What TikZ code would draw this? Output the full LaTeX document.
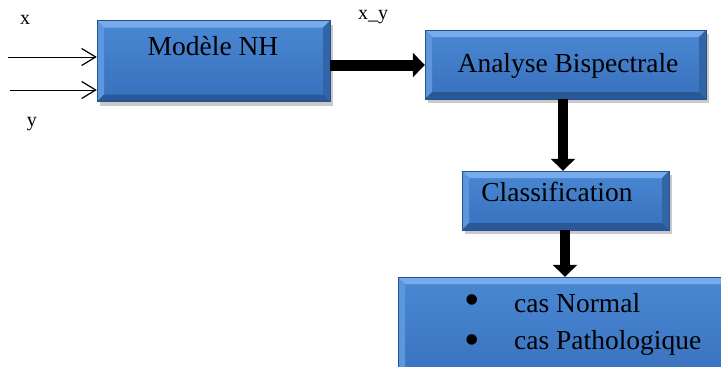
\documentclass[tikz,border=0pt]{standalone}
\usepackage{fontspec}
\setmainfont{Liberation Serif}
\usetikzlibrary{arrows.meta,shadows}
\definecolor{facetop}{RGB}{74,136,212}
\definecolor{facebot}{RGB}{56,112,188}
\definecolor{bevtop}{RGB}{118,172,236}
\definecolor{bevleft}{RGB}{92,150,220}
\definecolor{bevbot}{RGB}{42,88,150}
\definecolor{bevright}{RGB}{50,100,168}
\definecolor{edge}{RGB}{40,80,140}
\tikzset{
  bevelbox/.style={rectangle, inner sep=0pt, top color=facetop, bottom color=facebot, draw=edge, line width=0.4pt,
    drop shadow={shadow xshift=3pt, shadow yshift=-4pt, opacity=0.35, fill=black!60},
    path picture={
      \fill[bevtop] (path picture bounding box.north west) -- (path picture bounding box.north east)
        -- ([xshift=-7pt,yshift=-7pt]path picture bounding box.north east) -- ([xshift=7pt,yshift=-7pt]path picture bounding box.north west) -- cycle;
      \fill[bevleft] (path picture bounding box.north west) -- ([xshift=7pt,yshift=-7pt]path picture bounding box.north west)
        -- ([xshift=7pt,yshift=7pt]path picture bounding box.south west) -- (path picture bounding box.south west) -- cycle;
      \fill[bevbot] (path picture bounding box.south west) -- ([xshift=7pt,yshift=7pt]path picture bounding box.south west)
        -- ([xshift=-7pt,yshift=7pt]path picture bounding box.south east) -- (path picture bounding box.south east) -- cycle;
      \fill[bevright] (path picture bounding box.south east) -- ([xshift=-7pt,yshift=7pt]path picture bounding box.south east)
        -- ([xshift=-7pt,yshift=-7pt]path picture bounding box.north east) -- (path picture bounding box.north east) -- cycle;
    }},
  boxtext/.style={font=\fontsize{27.5}{32}\selectfont, inner sep=0pt},
  bullettext/.style={font=\fontsize{44}{48}\selectfont, inner sep=0pt},
  lbl/.style={font=\fontsize{20}{24}\selectfont, inner sep=0pt},
  thinarrow/.style={line width=1pt, -{Straight Barb[length=14pt,width=17pt,line width=1.2pt]}},
  fatarrow/.style={line width=11pt, -{Triangle[length=12pt,width=24pt]}},
}
\begin{document}
\begin{tikzpicture}[x=1pt,y=-1pt]
\clip (0,0) rectangle (721,367);
\fill[white] (0,0) rectangle (721,367);
% boxes
\node[bevelbox, minimum width=233pt, minimum height=81pt] (model) at (213.5,61) {};
\node[bevelbox, minimum width=281pt, minimum height=69pt] (analyse) at (565.5,64.5) {};
\node[bevelbox, minimum width=207pt, minimum height=59pt] (classif) at (565.5,200.5) {};
\node[bevelbox, minimum width=340pt, minimum height=110pt] (result) at (568,332) {};
% texts
\node[boxtext] (tmodel) at (213,46) {Modèle NH};
\node[boxtext] (tanalyse) at (568,66) {Analyse Bispectrale};
\node[boxtext] (tclassif) at (557,192) {Classification};
\node[bullettext] (b1) at (472,305) {•};
\node[bullettext] (b2) at (472,345) {•};
\node[boxtext, anchor=west] (t1) at (514,303) {cas Normal};
\node[boxtext, anchor=west] (t2) at (514,343) {cas Pathologique};
% labels
\node[lbl] (lx) at (25,20) {x};
\node[lbl] (ly) at (32,124) {y};
\node[lbl] (lxy) at (373,17) {x\_y};
% arrows
\coordinate (in1) at (8,57);
\coordinate (in2) at (10,90);
\draw[thinarrow] (in1) -- (model.west |- in1);
\draw[thinarrow] (in2) -- (model.west |- in2);
\coordinate (mid) at (0,65);
\draw[fatarrow] (model.east |- mid) -- (analyse.west |- mid);
\coordinate (v1) at (563,0);
\draw[fatarrow, line width=10pt] (analyse.south -| v1) -- (classif.north -| v1);
\coordinate (v2) at (565,0);
\draw[fatarrow, line width=10pt] (classif.south -| v2) -- (result.north -| v2);
\end{tikzpicture}
\end{document}
